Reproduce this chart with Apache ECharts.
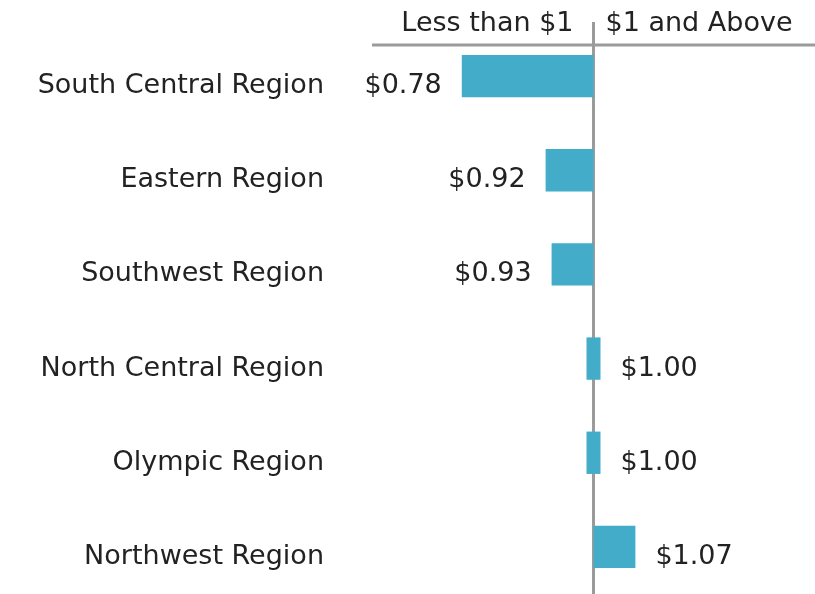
<!DOCTYPE html>
<html>
<head>
<meta charset="utf-8">
<script src="https://cdn.jsdelivr.net/npm/echarts@6/dist/echarts.min.js"></script>
<style>
  html, body { margin: 0; padding: 0; background: #fff; }
  #chart { width: 815px; height: 594px; }
</style>
</head>
<body>
<div id="chart"></div>
<script>
const regions = ['South Central Region', 'Eastern Region', 'Southwest Region', 'North Central Region', 'Olympic Region', 'Northwest Region']
const prices = [0.78, 0.92, 0.93, 1.00, 1.00, 1.07]
const baseline = 1
const headers = ['Less than $1', '$1 and Above']

const barColor = '#43acc8'
const textColor = '#222'
const lineColor = '#9b9b9b'
const font = 'DejaVu Sans'
const fontSize = 27

const chart = echarts.init(document.getElementById('chart'))

const option = {
  animation: false,
  grid: {
    left: 372,
    right: 0,
    top: 29,
    bottom: 0,
    outerBoundsMode: 'none'
  },
  xAxis: {
    type: 'value',
    min: 0.63,
    max: 1.37,
    show: false
  },
  yAxis: {
    type: 'category',
    data: regions,
    inverse: true,
    axisLine: { show: false },
    axisTick: { show: false },
    splitLine: { show: false },
    axisLabel: {
      color: textColor,
      fontFamily: font,
      fontSize: fontSize,
      margin: 48,
      // labels sit a little below the bar centre
      verticalAlign: 'top',
      lineHeight: 20
    }
  },
  series: [
    {
      type: 'custom',
      z: 2,
      encode: { x: 0, y: 1 },
      data: prices.map((p, i) => [p, i]),
      renderItem: function (params, api) {
        const i = api.value(1)
        const v = api.value(0)
        const base = api.coord([baseline, i])
        const end = api.coord([v, i])
        const h = api.size([0, 1])[1] * 0.45
        let x0 = Math.min(base[0], end[0])
        let w = Math.abs(end[0] - base[0])
        // values right on $1 still get a small block over the line
        if (w < 14) {
          x0 = base[0] - 7
          w = 14
        }
        const low = v < baseline
        return {
          type: 'group',
          children: [
            {
              type: 'rect',
              shape: { x: x0, y: base[1] - h / 2, width: w, height: h },
              style: { fill: barColor }
            },
            {
              type: 'text',
              x: low ? x0 - 20 : x0 + w + 20,
              y: base[1] + 10,
              style: {
                text: '$' + v.toFixed(2),
                align: low ? 'right' : 'left',
                verticalAlign: 'middle',
                fontFamily: font,
                fontSize: fontSize,
                fill: textColor
              }
            }
          ]
        }
      }
    }
  ]
}

chart.setOption(option)

// divider line at $1 and the two headers above the bars
const lineX = chart.convertToPixel({ xAxisIndex: 0 }, baseline)
chart.setOption({
  graphic: [
    {
      type: 'line',
      z: 1,
      shape: { x1: lineX, y1: 22, x2: lineX, y2: 594 },
      style: { stroke: lineColor, lineWidth: 3 }
    },
    {
      type: 'line',
      z: 1,
      shape: { x1: 372, y1: 45, x2: 815, y2: 45 },
      style: { stroke: lineColor, lineWidth: 3 }
    },
    {
      type: 'text',
      x: lineX - 20,
      y: 24,
      style: {
        text: headers[0],
        align: 'right',
        verticalAlign: 'middle',
        fontFamily: font,
        fontSize: fontSize,
        fill: textColor
      }
    },
    {
      type: 'text',
      x: lineX + 12,
      y: 24,
      style: {
        text: headers[1],
        align: 'left',
        verticalAlign: 'middle',
        fontFamily: font,
        fontSize: fontSize,
        fill: textColor
      }
    }
  ]
})
</script>
</body>
</html>
